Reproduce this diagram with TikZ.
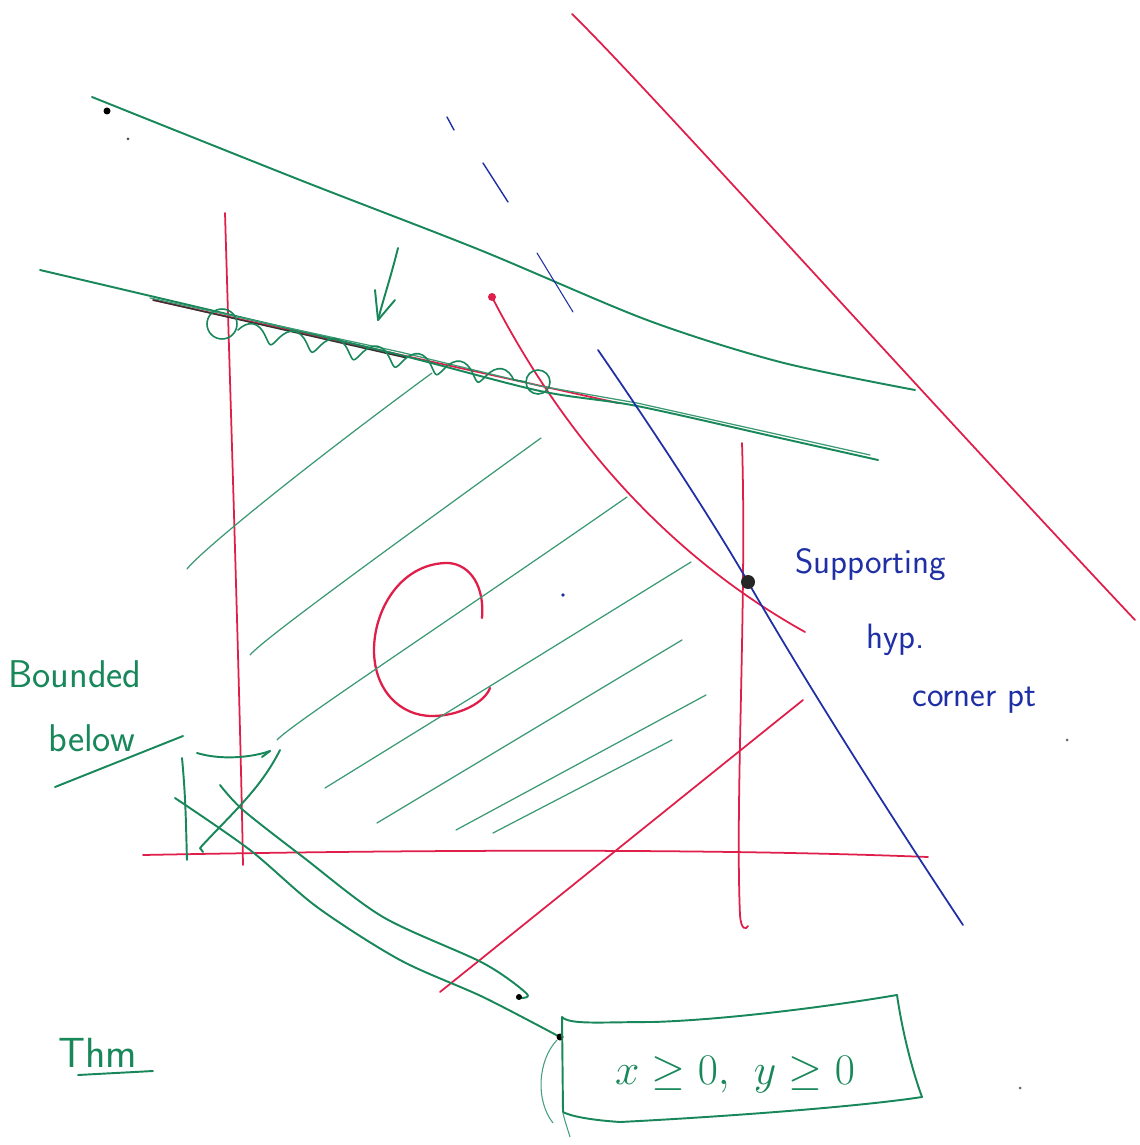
\documentclass[tikz,border=0pt]{standalone}
\usetikzlibrary{decorations.pathmorphing}
\definecolor{pg}{HTML}{18875A}
\definecolor{pr}{HTML}{E01E4A}
\definecolor{pb}{HTML}{1F2FA5}
\tikzset{
  gl/.style={pg, line width=1.1pt, line cap=round, line join=round},
  glthin/.style={pg!85, line width=0.7pt, line cap=round},
  rl/.style={pr, line width=1.0pt, line cap=round, line join=round},
  bl/.style={pb, line width=1.0pt, line cap=round, line join=round},
  gtext/.style={pg, font=\sffamily\fontsize{22}{24}\selectfont, inner sep=0pt},
  btext/.style={pb, font=\sffamily\fontsize{20}{22}\selectfont, inner sep=0pt},
}
\begin{document}
\begin{tikzpicture}[x=0.02cm,y=-0.02cm]
\useasboundingbox (0,0) rectangle (1139,1145);
\fill[white] (0,0) rectangle (1139,1145);

% ---------------- red lines ----------------
\draw[rl] (572,14) .. controls (640,80) and (900,370) .. (1135,620);
\draw[rl] (225,213) .. controls (232,450) and (240,700) .. (243,865);
\draw[rl] (143,855) .. controls (400,850) and (700,848) .. (928,857);
\draw[rl] (742,443) .. controls (747,600) and (735,800) .. (740,915) .. controls (741,930) and (746,930) .. (748,926);
\draw[rl] (492,297) .. controls (545,400) and (640,540) .. (805,632);
\draw[rl] (440,992) -- (803,700);
\draw[rl] (153,300) -- (618,403);
\fill[pr] (492,297) circle (4);
% the C
\draw[rl, line width=1.3pt] (482,618) .. controls (485,580) and (465,562) .. (445,563)
   .. controls (400,565) and (374,610) .. (374,650)
   .. controls (374,690) and (400,716) .. (432,716)
   .. controls (460,716) and (485,702) .. (490,688);

% ---------------- green lines ----------------
\draw[gl] plot[smooth] coordinates {(92,97) (300,180) (480,250) (647,320) (780,362) (915,390)};
\draw[gl] plot[smooth] coordinates {(40,270) (210,310) (400,355) (540,391) (637,406) (780,438) (878,460)};
\draw[glthin] (150,298) -- (400,352) -- (540,386) -- (637,403) -- (870,455);
\draw[black!80, line width=0.8pt] (153,300) -- (407,358);
% wavy emphasis with circles
\draw[gl, line width=0.9pt, decorate, decoration={coil, aspect=0.35, segment length=24, amplitude=5}] (238,330) -- (526,382);
\draw[gl, line width=0.9pt] (222,324) circle (15);
\draw[gl, line width=0.9pt] (538,382) circle (12);
% arrow pointing at the line
\draw[gl] (398,248) .. controls (390,280) and (383,300) .. (378,320);
\draw[gl] (375,290) -- (378,320) -- (395,300);

% hatching
\draw[glthin] (187,569) .. controls (200,552) and (300,470) .. (432,373);
\draw[glthin] (250,655) .. controls (262,640) and (400,540) .. (541,438);
\draw[glthin] (277,740) .. controls (290,725) and (450,620) .. (627,497);
\draw[glthin] (325,788) -- (691,562);
\draw[glthin] (377,823) -- (682,640);
\draw[glthin] (456,830) -- (706,695);
\draw[glthin] (493,833) -- (672,740);

% bounded below
\node[gtext, anchor=west] (bd) at (8,674) {Bounded};
\node[gtext, anchor=west] (bw) at (48,738) {below};
\coordinate (ul1) at (55,787);
\coordinate (ul2) at (183,736);
\draw[gl] (ul1) -- (ul2);

% the X mark
\draw[gl] (182,758) .. controls (186,800) and (186,830) .. (187,860);
\draw[gl] (197,753) .. controls (220,760) and (250,758) .. (270,751);
\draw[gl] (262,757) -- (270,751);
\draw[gl] (280,750) .. controls (260,790) and (230,815) .. (200,848) -- (203,852);
\coordinate (boxin) at (560,1037);
\draw[gl] plot[smooth] coordinates {(220,785) (243,810) (303,857) (383,917) (483,963) (527,994) (517,998)};
\draw[gl] plot[smooth] coordinates {(175,798) (250,850) (317,907) (400,960) (483,997) (boxin)};
\fill[black] (boxin) circle (3.5);
\fill[black] (519,997) circle (3);

% box
\node[pg, font=\fontsize{32}{34}\selectfont, inner sep=0pt] (box) at (735,1075) {$x\geq 0,\ y\geq 0$};
\draw[gl] (562,1017) .. controls (570,1025) and (600,1022) .. (653,1022) .. controls (720,1020) and (820,1008) .. (897,995)
          .. controls (902,1030) and (912,1070) .. (922,1097)
          .. controls (850,1108) and (700,1118) .. (620,1122) .. controls (590,1120) and (570,1116) .. (563,1112) -- cycle;
\draw[pg!80, line width=0.6pt] (557,1040) .. controls (538,1060) and (535,1100) .. (553,1123);
\draw[pg!80, line width=0.6pt] (563,1113) .. controls (565,1122) and (568,1130) .. (570,1137);

% Thm
\node[pg, font=\sffamily\fontsize{24}{26}\selectfont, inner sep=0pt, anchor=south west] (thm) at (58,1068) {Thm};
\draw[gl] (78,1075) -- (153,1071);

% ---------------- blue ----------------
\draw[bl, line width=0.8pt] (447,117) -- (454,130);
\draw[bl, line width=0.8pt] (483,163) -- (508,202);
\draw[bl, line width=0.6pt] (537,253) -- (573,312);
\coordinate (cp) at (748,582);
\draw[bl] (598,350) .. controls (660,440) and (715,525) .. (cp) .. controls (810,690) and (900,830) .. (963,925);
\fill[black!85] (cp) circle (7);
\fill[pb] (563,595) circle (1.8);
\fill[black!60] (1067,740) circle (1.5);
\fill[black!60] (1020,1088) circle (1.5);
\fill[black] (107,111) circle (3.5);
\fill[black!70] (128,139) circle (1.5);

\node[btext, anchor=west] (sup) at (795,565) {Supporting};
\node[btext, anchor=west] (hyp) at (866,640) {hyp.};
\node[btext, anchor=west] (cor) at (912,700) {corner pt};
\end{tikzpicture}
\end{document}
